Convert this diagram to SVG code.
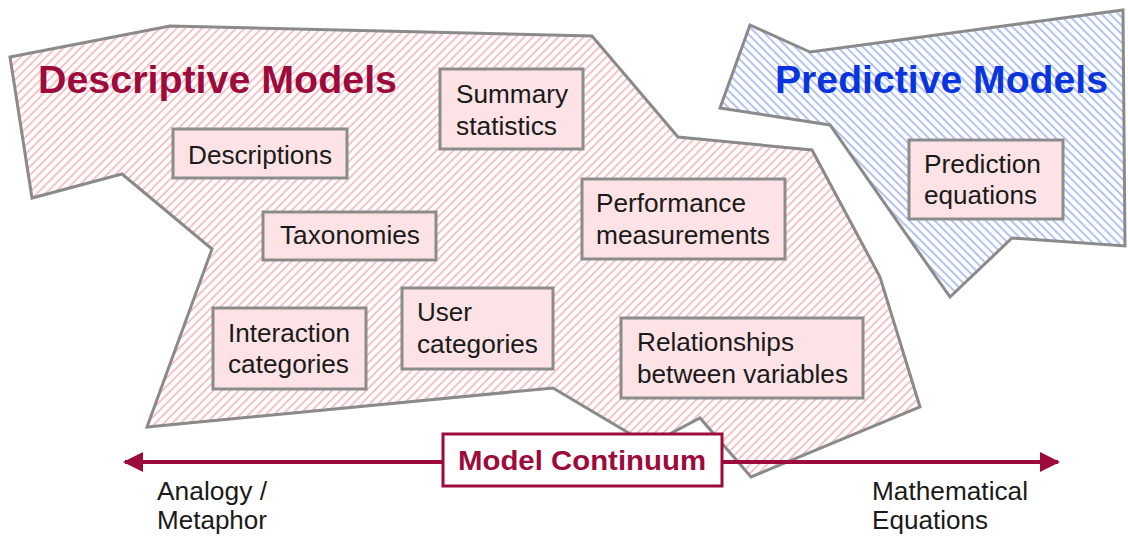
<svg xmlns="http://www.w3.org/2000/svg" width="1128" height="538" viewBox="0 0 1128 538">
<defs>
<pattern id="pinkHatch" patternUnits="userSpaceOnUse" width="6" height="6" patternTransform="rotate(45)">
<rect width="6" height="6" fill="#ffffff"/>
<rect x="0" y="0" width="2" height="6" fill="#f6c3c7"/>
</pattern>
<pattern id="blueHatch" patternUnits="userSpaceOnUse" width="6" height="6" patternTransform="rotate(-45)">
<rect width="6" height="6" fill="#ffffff"/>
<rect x="0" y="0" width="2" height="6" fill="#b3c4f2"/>
</pattern>
<marker id="arrow" viewBox="0 0 20 20" refX="18" refY="10" markerWidth="20" markerHeight="20" markerUnits="userSpaceOnUse" orient="auto-start-reverse">
<path d="M0,0 L20,10 L0,20 z" fill="#9c0b3c"/>
</marker>
<style>
.region{stroke:#8a8a8a;stroke-width:3;stroke-linejoin:miter}
.box{fill:#fde3e5;stroke:#8c8c8c;stroke-width:3}
.t{font-family:"Liberation Sans",Arial,sans-serif;font-size:25px;fill:#1a1a1a}
.title{font-family:"Liberation Sans",Arial,sans-serif;font-size:38px;font-weight:bold}
.mc{font-family:"Liberation Sans",Arial,sans-serif;font-size:28px;font-weight:bold;fill:#9c0b3c}
</style>
</defs>
<rect width="1128" height="538" fill="#ffffff"/>

<g id="descriptive-region">
<polygon class="region" fill="url(#pinkHatch)" points="10,57 170,26 592,36 678,137 812,150 880,277 920,407 751,477 700,418 649,445 553,388 147,427 212,249 122,174 32,198"/>
<text class="title" x="38" y="93" fill="#9c0b3c" textLength="359" lengthAdjust="spacingAndGlyphs">Descriptive Models</text>
</g>

<g id="predictive-region">
<polygon class="region" fill="url(#blueHatch)" points="750,25 810,52 1123,10 1125,246 1012,238 950,297 830,125 720,108"/>
<text class="title" x="775" y="93" fill="#0a35dd" textLength="333" lengthAdjust="spacingAndGlyphs">Predictive Models</text>
</g>

<g id="connectors">
<line x1="125" y1="462" x2="1058" y2="462" stroke="#9c0b3c" stroke-width="4" marker-start="url(#arrow)" marker-end="url(#arrow)"/>
</g>

<g id="node-descriptions">
<rect class="box" x="173" y="129" width="174" height="49"/>
<text class="t" x="188" y="164" textLength="144" lengthAdjust="spacingAndGlyphs">Descriptions</text>
</g>

<g id="node-summary">
<rect class="box" x="440" y="69" width="143" height="80"/>
<text class="t" x="456" y="103" textLength="112" lengthAdjust="spacingAndGlyphs">Summary</text>
<text class="t" x="456" y="135" textLength="101" lengthAdjust="spacingAndGlyphs">statistics</text>
</g>

<g id="node-taxonomies">
<rect class="box" x="263" y="212" width="173" height="48"/>
<text class="t" x="280" y="244" textLength="140" lengthAdjust="spacingAndGlyphs">Taxonomies</text>
</g>

<g id="node-interaction">
<rect class="box" x="213" y="308" width="153" height="81"/>
<text class="t" x="228" y="342" textLength="122" lengthAdjust="spacingAndGlyphs">Interaction</text>
<text class="t" x="228" y="373" textLength="121" lengthAdjust="spacingAndGlyphs">categories</text>
</g>

<g id="node-user">
<rect class="box" x="402" y="288" width="151" height="81"/>
<text class="t" x="417" y="321" textLength="55" lengthAdjust="spacingAndGlyphs">User</text>
<text class="t" x="417" y="353" textLength="121" lengthAdjust="spacingAndGlyphs">categories</text>
</g>

<g id="node-performance">
<rect class="box" x="582" y="179" width="203" height="80"/>
<text class="t" x="596" y="212" textLength="150" lengthAdjust="spacingAndGlyphs">Performance</text>
<text class="t" x="596" y="244" textLength="174" lengthAdjust="spacingAndGlyphs">measurements</text>
</g>

<g id="node-relationships">
<rect class="box" x="621" y="318" width="242" height="80"/>
<text class="t" x="637" y="351" textLength="157" lengthAdjust="spacingAndGlyphs">Relationships</text>
<text class="t" x="637" y="383" textLength="211" lengthAdjust="spacingAndGlyphs">between variables</text>
</g>

<g id="node-prediction">
<rect class="box" x="909" y="140" width="154" height="79"/>
<text class="t" x="924" y="173" textLength="117" lengthAdjust="spacingAndGlyphs">Prediction</text>
<text class="t" x="924" y="204" textLength="113" lengthAdjust="spacingAndGlyphs">equations</text>
</g>

<g id="node-model-continuum">
<rect x="443" y="434" width="279" height="52" fill="#ffffff" stroke="#9c0b3c" stroke-width="3"/>
<text class="mc" x="458" y="470" textLength="248" lengthAdjust="spacingAndGlyphs">Model Continuum</text>
</g>

<g id="label-analogy">
<text class="t" x="157" y="500" textLength="110" lengthAdjust="spacingAndGlyphs">Analogy /</text>
<text class="t" x="157" y="529" textLength="110" lengthAdjust="spacingAndGlyphs">Metaphor</text>
</g>

<g id="label-mathematical">
<text class="t" x="872" y="500" textLength="156" lengthAdjust="spacingAndGlyphs">Mathematical</text>
<text class="t" x="872" y="529" textLength="116" lengthAdjust="spacingAndGlyphs">Equations</text>
</g>
</svg>
